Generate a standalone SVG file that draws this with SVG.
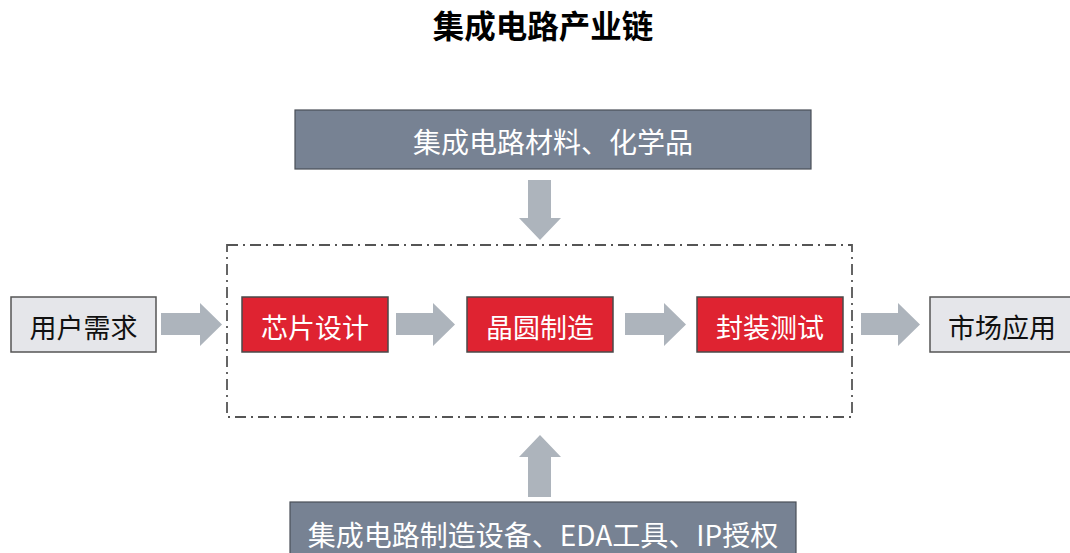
<svg xmlns="http://www.w3.org/2000/svg" width="1070" height="553" viewBox="0 0 1070 553">
<style>
text{font-family:"Noto Sans CJK SC","Noto Sans",sans-serif;text-anchor:middle}
.title{font-size:31.5px;font-weight:bold;fill:#000}
.dark{fill:#778293;stroke:#4a4f57;stroke-width:1.2}
.red{fill:#df2331;stroke:#4a4a4a;stroke-width:1.5}
.light{fill:#e5e6ea;stroke:#555;stroke-width:1.5}
.wt{fill:#fff;font-size:27px}
.bt{fill:#111;font-size:27px}
.arr{fill:#adb4bc}
.frame{fill:none;stroke:#555;stroke-width:1.8;stroke-dasharray:11 5 2 5}
</style>
<text class="title" x="543" y="38">集成电路产业链</text>
<g id="frame"><rect class="frame" x="227" y="245" width="625" height="172"/></g>
<g id="materials"><rect class="dark" x="295" y="110" width="516" height="59"/><text class="wt" x="553" y="153" style="font-size:28px">集成电路材料、化学品</text></g>
<g id="equipment"><rect class="dark" x="290" y="502" width="506" height="60"/><text class="wt" x="543" y="546" style="font-size:28px">集成电路制造设备、EDA工具、IP授权</text></g>
<g id="demand"><rect class="light" x="11" y="297" width="145" height="55"/><text class="bt" x="83.5" y="338">用户需求</text></g>
<g id="design"><rect class="red" x="242" y="297" width="146" height="55"/><text class="wt" x="315" y="338">芯片设计</text></g>
<g id="fab"><rect class="red" x="467" y="297" width="146" height="55"/><text class="wt" x="540" y="338">晶圆制造</text></g>
<g id="package"><rect class="red" x="697" y="297" width="146" height="55"/><text class="wt" x="770" y="338">封装测试</text></g>
<g id="market"><rect class="light" x="930" y="297" width="145" height="55"/><text class="bt" x="1002" y="338">市场应用</text></g>
<g id="connectors">
<polygon class="arr" points="161,313 200,313 200,303 222,324.5 200,346 200,335 161,335"/>
<polygon class="arr" points="396,313 433,313 433,303 455,324.5 433,346 433,335 396,335"/>
<polygon class="arr" points="625,313 664,313 664,303 686,324.5 664,346 664,335 625,335"/>
<polygon class="arr" points="861,313 898,313 898,303 920,324.5 898,346 898,335 861,335"/>
<polygon class="arr" points="528,180 551,180 551,218 561,218 540,240 519,218 528,218"/>
<polygon class="arr" points="528,497 551,497 551,457 561,457 540,435 519,457 528,457"/>
</g>
</svg>
